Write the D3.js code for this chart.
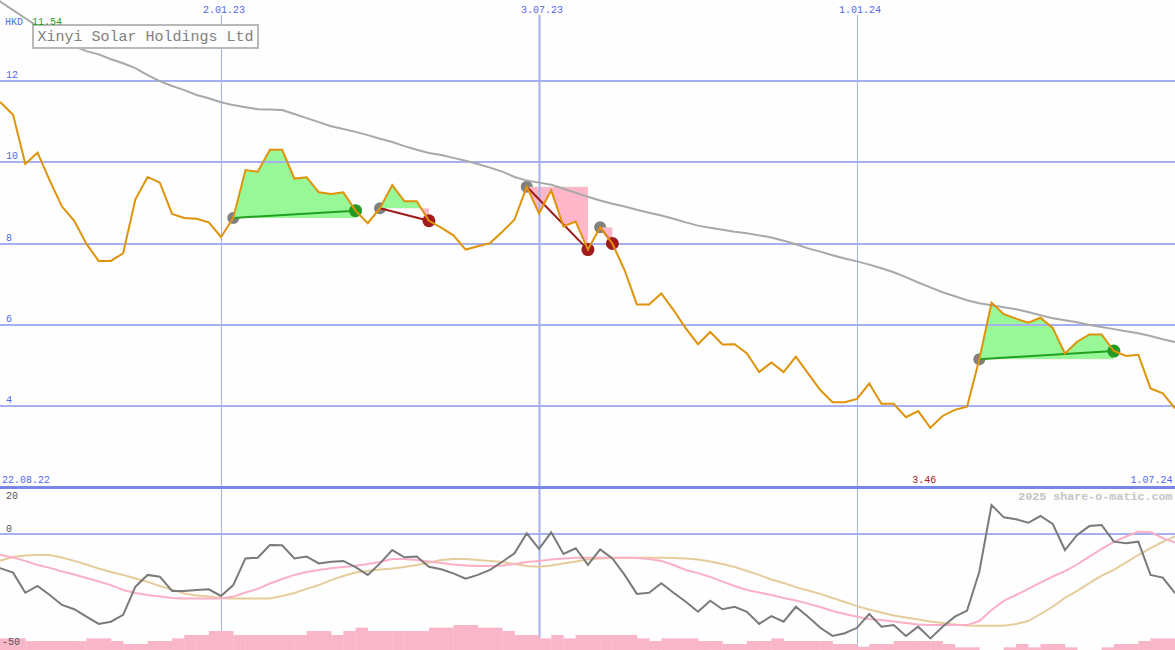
<!DOCTYPE html>
<html><head><meta charset="utf-8">
<script src="https://cdn.jsdelivr.net/npm/d3@7"></script>
<style>html,body{margin:0;padding:0;background:#fdfefd;} svg{display:block;}</style>
</head><body>
<svg id="c" width="1175" height="650"></svg>
<script>
// ---- data (weekly, starting 22.08.22) ----
const firstWeek = "2022-08-22";
const price = [11.54,11.47,11.17,9.96,10.24,9.55,8.91,8.56,7.99,7.57,
  7.57,7.76,9.09,9.64,9.50,8.73,8.63,8.61,8.52,8.16,
  8.63,9.81,9.77,10.31,10.31,9.60,9.63,9.26,9.22,9.26,
  8.81,8.50,8.87,9.44,9.04,9.04,8.56,8.39,8.20,7.85,
  7.93,8.01,8.29,8.59,9.40,8.74,9.31,8.42,8.54,7.85,
  8.40,8.00,7.34,6.50,6.50,6.77,6.36,5.91,5.52,5.82,
  5.51,5.52,5.29,4.83,5.07,4.83,5.21,4.80,4.39,4.09,
  4.09,4.17,4.55,4.05,4.05,3.72,3.87,3.46,3.75,3.90,
  3.98,5.15,6.54,6.26,6.15,6.05,6.17,5.92,5.29,5.58,
  5.76,5.76,5.35,5.23,5.26,4.43,4.31,3.94];
const movingAvg = [14.2,13.95,13.75,13.55,13.35,13.15,13.0,12.86,12.74,12.66,
  12.54,12.44,12.32,12.15,12.0,11.88,11.78,11.66,11.58,11.48,
  11.41,11.36,11.31,11.30,11.29,11.19,11.09,10.99,10.89,10.82,
  10.75,10.67,10.58,10.50,10.40,10.31,10.23,10.18,10.11,10.04,
  9.96,9.87,9.77,9.64,9.55,9.50,9.45,9.35,9.25,9.15,
  9.06,8.98,8.91,8.83,8.76,8.69,8.61,8.52,8.44,8.39,
  8.34,8.29,8.25,8.20,8.15,8.07,7.98,7.88,7.80,7.71,
  7.63,7.56,7.48,7.39,7.29,7.17,7.04,6.92,6.80,6.70,
  6.60,6.53,6.48,6.43,6.38,6.31,6.23,6.16,6.11,6.06,
  5.99,5.94,5.89,5.84,5.79,5.72,5.64,5.57];
const oscillator = [-14,-15.2,-17.1,-26.0,-23.0,-27.0,-31.4,-33.3,-36.6,-39.8,
  -38.8,-35.8,-23.3,-18.1,-18.9,-25.2,-25.2,-24.8,-24.5,-27.4,
  -22.6,-10.8,-10.5,-4.9,-5.0,-10.8,-10.0,-13.0,-12.3,-11.9,
  -14.7,-18.1,-13.0,-7.1,-10.3,-10.0,-14.5,-15.6,-17.4,-19.8,
  -18.1,-15.9,-12.3,-8.5,0.4,-6.6,1.0,-8.8,-6.3,-13.7,
  -6.8,-10.8,-18.1,-26.5,-26.0,-21.8,-26.0,-30.0,-34.4,-29.5,
  -33.3,-32.2,-34.4,-39.8,-36.3,-38.8,-32.2,-36.6,-41.5,-45.1,
  -43.9,-41.5,-35.4,-41.0,-40.3,-45.1,-41.0,-46.2,-41.0,-36.6,
  -33.9,-16.7,17.6,10.1,8.9,6.8,10.9,6.1,-7.1,-0.4,
  4.8,5.5,-3.4,-4.1,-3.4,-18.1,-19.3,-26.2];
const oscFast = [-8.0,-9.3,-10.4,-11.9,-13.7,-15.0,-16.6,-17.9,-19.5,-21.0,
  -22.6,-24.8,-26.1,-27.0,-27.7,-28.3,-28.5,-28.5,-28.5,-28.5,
  -27.7,-25.9,-24.3,-21.9,-19.9,-18.1,-16.8,-15.9,-15.2,-14.6,
  -14.0,-13.3,-12.4,-11.1,-11.1,-11.5,-12.2,-12.8,-13.5,-13.9,
  -14.2,-14.2,-13.9,-13.3,-12.4,-11.9,-11.3,-10.8,-10.5,-10.5,
  -10.5,-10.5,-10.5,-10.6,-11.1,-11.9,-13.7,-15.9,-17.3,-19.0,
  -21.1,-23.0,-24.8,-25.9,-27.0,-28.3,-29.4,-30.8,-32.3,-34.1,
  -35.4,-36.6,-37.6,-38.1,-38.7,-39.4,-40.0,-40.3,-40.3,-40.3,
  -40.3,-38.5,-33.6,-29.6,-27.0,-24.3,-21.5,-18.8,-16.4,-13.5,
  -10.0,-6.6,-3.5,-1.1,1.4,1.2,-1.8,-3.8];
const oscSlow = [-12.4,-11.7,-10.2,-9.5,-9.3,-9.3,-10.4,-11.9,-13.5,-15.3,
  -16.8,-18.1,-19.7,-21.2,-23.0,-24.6,-26.3,-27.2,-27.7,-28.3,
  -28.5,-28.5,-28.5,-28.5,-27.4,-26.1,-24.3,-22.6,-20.4,-18.6,
  -17.0,-16.4,-15.7,-15.3,-14.6,-13.7,-12.6,-11.5,-11.1,-11.1,
  -11.5,-11.9,-12.4,-13.3,-14.2,-14.5,-13.9,-13.1,-12.2,-11.3,
  -10.8,-10.6,-10.5,-10.5,-10.5,-10.5,-10.6,-10.8,-11.3,-12.2,
  -13.3,-14.6,-16.4,-18.1,-20.1,-21.7,-23.5,-25.0,-26.5,-28.3,
  -30.1,-31.9,-33.4,-34.7,-36.1,-36.9,-37.8,-38.7,-39.4,-40.0,
  -40.5,-40.6,-40.6,-40.6,-39.8,-38.5,-35.4,-32.2,-28.3,-25.2,
  -21.7,-18.4,-15.9,-12.6,-9.3,-6.2,-3.5,-1.1];
const volume = [35,35,35,27,27,27,27,27,35,35,
  27,18,18,27,27,35,45,45,57,57,
  45,45,45,45,45,45,57,57,45,57,
  67,57,57,57,57,57,67,67,75,75,
  67,67,57,45,45,35,45,35,45,45,
  45,45,45,35,27,35,35,35,27,27,
  18,18,27,27,35,27,27,27,27,18,
  18,10,18,18,27,27,27,27,18,8,
  8,0,0,8,18,8,18,18,8,0,
  0,8,18,18,27,35,35];
const tradeEntry = ["2023-01-09","2023-04-03","2023-06-26","2023-08-07","2024-03-11"];
const tradeExit  = ["2023-03-20","2023-05-01","2023-07-31","2023-08-14","2024-05-27"];
const priceTicks = [4,6,8,10,12];
const oscTicks = [20,0,-50];
const dateTicks = ["2023-01-02","2023-07-03","2024-01-01"];
const dateTickLabels = ["2.01.23","3.07.23","1.01.24"];
const title = "Xinyi Solar Holdings Ltd";
const currency = "HKD";
const maxLabel = "11.54", minLabel = "3.46";
const firstLabel = "22.08.22", lastLabel = "1.07.24";
const credit = "2025 share-o-matic.com";

// ---- scales ----
const parse = d3.utcParse("%Y-%m-%d");
const d0 = parse(firstWeek);
const dates = price.map((_, i) => d3.utcDay.offset(d0, 7 * i));
const x = d3.scaleUtc().domain([parse("2022-08-29"), parse("2024-07-01")]).range([0.85, 1175]);
const y = d3.scaleLinear().domain([2, 14]).range([487, 0]);
const yo = d3.scaleLinear().domain([-50, 0, 20]).range([647, 534, 501]);
const yv = d3.scaleLinear().domain([0, 100]).range([650, 616.7]);

const svg = d3.select("#c");
const FONT = "'Liberation Mono', 'DejaVu Sans Mono', monospace";
const BLUE = "#5566ee", GRID = "#a4b0f0";

svg.append("rect").attr("width", 1175).attr("height", 650).attr("fill", "#fdfefd");

const idx = s => dates.findIndex(d => +d === +parse(s));

// entry circles (under fills)
const trades = tradeEntry.map((s, i) => {
  const e = idx(s), xx = idx(tradeExit[i]);
  return {e, x: xx, win: price[xx] > price[e]};
});
svg.append("g").selectAll("circle").data(trades).join("circle")
  .attr("cx", t => x(dates[t.e])).attr("cy", t => y(price[t.e])).attr("r", 6)
  .attr("fill", "#808080");

// fills
const defs = svg.append("defs");
trades.forEach((t, i) => {
  const ye = y(price[t.e]);
  defs.append("clipPath").attr("id", "up" + i).append("rect")
    .attr("x", 0).attr("y", 0).attr("width", 1175).attr("height", ye);
  defs.append("clipPath").attr("id", "dn" + i).append("rect")
    .attr("x", 0).attr("y", ye).attr("width", 1175).attr("height", 487 - ye);
  const seg = d3.range(t.e, t.x + 1);
  const area = d3.area().x(k => x(dates[k])).y0(ye).y1(k => y(price[k]));
  svg.append("path").attr("d", area(seg)).attr("fill", "#98f898").attr("clip-path", `url(#up${i})`);
  svg.append("path").attr("d", area(seg)).attr("fill", "#ffb6c8").attr("clip-path", `url(#dn${i})`);
});

// grid lines
svg.append("g").selectAll("line").data(priceTicks).join("line")
  .attr("x1", 0).attr("x2", 1175).attr("y1", d => Math.round(y(d))).attr("y2", d => Math.round(y(d)))
  .attr("stroke", GRID).attr("stroke-width", 2);
svg.append("g").selectAll("text").data(priceTicks).join("text")
  .attr("x", 6).attr("y", d => Math.round(y(d)) - 3).text(d => d)
  .attr("fill", BLUE).attr("font-size", 10).attr("font-family", FONT);
svg.append("g").selectAll("line").data(dateTicks).join("line")
  .attr("x1", d => Math.round(x(parse(d))) + 0.5).attr("x2", d => Math.round(x(parse(d))) + 0.5)
  .attr("y1", 15).attr("y2", 650)
  .attr("stroke", GRID).attr("stroke-width", (d, i) => i === 1 ? 2 : 1);
svg.append("g").selectAll("text").data(dateTicks).join("text")
  .attr("x", d => x(parse(d)) + 3).attr("y", 13).attr("text-anchor", "middle")
  .text((d, i) => dateTickLabels[i])
  .attr("fill", BLUE).attr("font-size", 10).attr("font-family", FONT);

// moving average
svg.append("path").attr("d", d3.line().x((d, i) => x(dates[i])).y(d => y(d))(movingAvg))
  .attr("fill", "none").attr("stroke", "#a8a8a8").attr("stroke-width", 2);

// trade lines and exit circles
svg.append("g").selectAll("line").data(trades).join("line")
  .attr("x1", t => x(dates[t.e])).attr("y1", t => y(price[t.e]))
  .attr("x2", t => x(dates[t.x])).attr("y2", t => y(price[t.x]))
  .attr("stroke", t => t.win ? "#22a022" : "#a01818").attr("stroke-width", 2);
svg.append("g").selectAll("circle").data(trades).join("circle")
  .attr("cx", t => x(dates[t.x])).attr("cy", t => y(price[t.x])).attr("r", 6.5)
  .attr("fill", t => t.win ? "#249a24" : "#a01c1c");

// price line
svg.append("path").attr("d", d3.line().x((d, i) => x(dates[i])).y(d => y(d))(price))
  .attr("fill", "none").attr("stroke", "#de930a").attr("stroke-width", 2);

// title box
svg.append("rect").attr("x", 33).attr("y", 25).attr("width", 225).attr("height", 23)
  .attr("fill", "#fdfefd").attr("stroke", "#b8b8b8").attr("stroke-width", 2);
svg.append("text").attr("x", 37.5).attr("y", 41).text(title)
  .attr("fill", "#808080").attr("font-size", 15).attr("font-family", FONT);
svg.append("text").attr("x", 5).attr("y", 25).text(currency)
  .attr("fill", BLUE).attr("font-size", 10).attr("font-family", FONT);
svg.append("text").attr("x", 32).attr("y", 25).text(maxLabel)
  .attr("fill", "#20a020").attr("font-size", 10).attr("font-family", FONT);

// separator
svg.append("line").attr("x1", 0).attr("x2", 1175).attr("y1", 487.5).attr("y2", 487.5)
  .attr("stroke", "#7886ea").attr("stroke-width", 3);
svg.append("text").attr("x", 2).attr("y", 483).text(firstLabel)
  .attr("fill", BLUE).attr("font-size", 10).attr("font-family", FONT);
const minIdx = price.indexOf(d3.min(price));
svg.append("text").attr("x", x(dates[minIdx]) + 6).attr("y", 483).attr("text-anchor", "end").text(minLabel)
  .attr("fill", "#a01c1c").attr("font-size", 10).attr("font-family", FONT);
svg.append("text").attr("x", 1172.5).attr("y", 483).attr("text-anchor", "end").text(lastLabel)
  .attr("fill", BLUE).attr("font-size", 10).attr("font-family", FONT);

// lower panel
svg.append("line").attr("x1", 0).attr("x2", 1175).attr("y1", yo(0)).attr("y2", yo(0))
  .attr("stroke", GRID).attr("stroke-width", 2);
svg.append("text").attr("x", 1172.5).attr("y", 500).attr("text-anchor", "end").text(credit)
  .attr("fill", "#c4c4c4").attr("font-size", 11.7).attr("font-weight", "bold").attr("font-family", FONT);

svg.append("g").selectAll("rect").data(volume).join("rect")
  .attr("x", (d, i) => x(dates[i])).attr("width", (d, i) => x(dates[i + 1]) - x(dates[i]) + 0.3)
  .attr("y", d => yv(d)).attr("height", d => 650 - yv(d))
  .attr("fill", "#f9b6c9");

const oline = d3.line().x((d, i) => x(dates[i])).y(d => yo(d));
svg.append("path").attr("d", oline(oscSlow)).attr("fill", "none").attr("stroke", "#e6cc9c").attr("stroke-width", 2);
svg.append("path").attr("d", oline(oscFast)).attr("fill", "none").attr("stroke", "#fbb0c6").attr("stroke-width", 2);
svg.append("path").attr("d", oline(oscillator)).attr("fill", "none").attr("stroke", "#7a7a7a").attr("stroke-width", 2);

svg.append("g").selectAll("text").data(oscTicks).join("text")
  .attr("x", d => d < 0 ? 2 : 6).attr("y", d => yo(d) - 2).text(d => d)
  .attr("fill", "#555").attr("font-size", 10).attr("font-family", FONT);
</script>
</body></html>
